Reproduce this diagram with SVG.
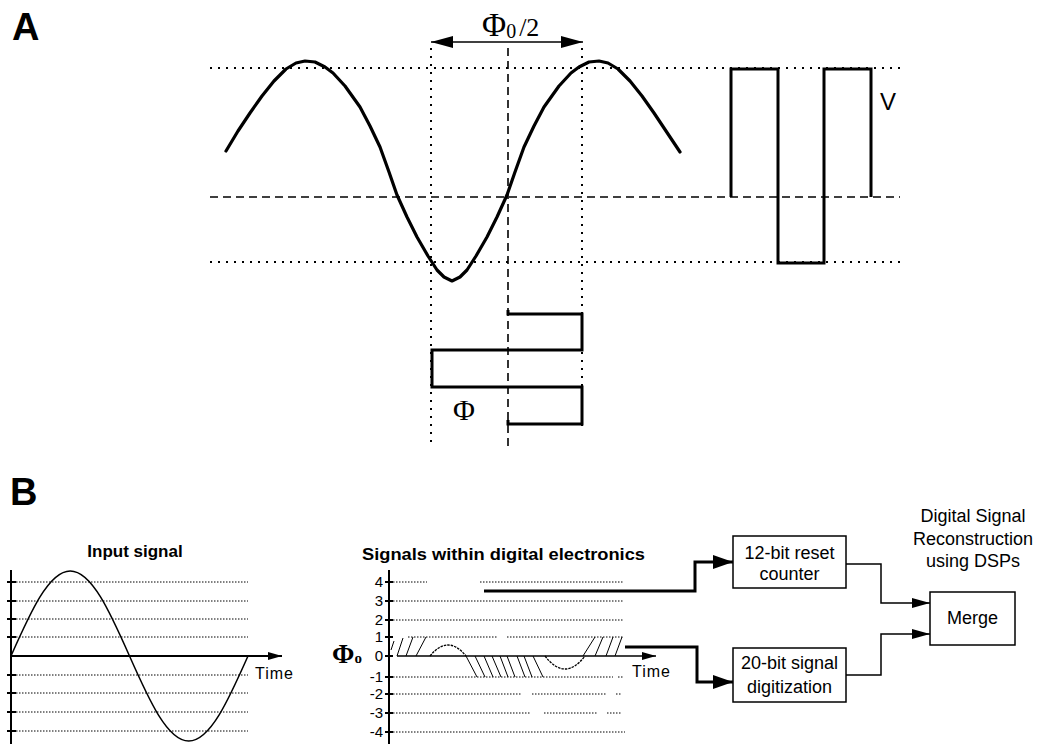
<svg xmlns="http://www.w3.org/2000/svg" width="1043" height="744" viewBox="0 0 1043 744">
<style>
  .bg{fill:#fff}
  .ln{stroke:#000;fill:none}
  .dotA{stroke:#000;stroke-width:2;stroke-dasharray:2 6;fill:none}
  .dashA{stroke:#000;stroke-width:1.6;stroke-dasharray:8 5;fill:none}
  .wave{stroke:#000;stroke-width:3.2;fill:none;stroke-linejoin:round;stroke-linecap:round}
  .sq{stroke:#000;stroke-width:3;fill:none;stroke-linejoin:miter}
  .fine{stroke:#000;stroke-width:1;stroke-dasharray:1.5 1.5;fill:none}
  .bump{stroke:#000;stroke-width:1.3;stroke-dasharray:2.5 1;fill:none}
  .hatch{stroke:#000;stroke-width:1;fill:none}
  .axis{stroke:#000;stroke-width:2;fill:none}
  .thick{stroke:#000;stroke-width:3;fill:none}
  .thin{stroke:#000;stroke-width:1.5;fill:none}
  .box{stroke:#000;stroke-width:1.5;fill:#fff}
  .lab{font-family:"Liberation Sans",Arial,sans-serif;font-weight:bold;font-size:38px}
  .serif{font-family:"Liberation Serif","Times New Roman",serif}
  .sans{font-family:"Liberation Sans",Arial,sans-serif}
  .t18{font-family:"Liberation Sans",Arial,sans-serif;font-size:18px;text-anchor:middle}
  .tick{font-family:"Liberation Sans",Arial,sans-serif;font-size:15px;text-anchor:end}
  .ttl{font-family:"Liberation Sans",Arial,sans-serif;font-size:17px;font-weight:bold}
</style>
<defs>
  <marker id="big" markerUnits="userSpaceOnUse" markerWidth="22" markerHeight="12" refX="22" refY="6" orient="auto-start-reverse"><path d="M0,0 L22,6 L0,12 Z" fill="#000"/></marker>
  <marker id="mthick" markerUnits="userSpaceOnUse" markerWidth="20" markerHeight="14" refX="20" refY="7" orient="auto"><path d="M0,0 L20,7 L0,14 Z" fill="#000"/></marker>
  <marker id="mthin" markerUnits="userSpaceOnUse" markerWidth="18" markerHeight="10" refX="18" refY="5" orient="auto"><path d="M0,0 L18,5 L0,10 Z" fill="#000"/></marker>
  <marker id="max" markerUnits="userSpaceOnUse" markerWidth="14" markerHeight="8" refX="14" refY="4" orient="auto"><path d="M0,0 L14,4 L0,8 Z" fill="#000"/></marker>
</defs>
<rect class="bg" x="0" y="0" width="1043" height="744"/>

<!-- Panel A -->
<g id="panelA">
  <text class="lab" x="12" y="40">A</text>
  <g id="gridA">
    <line class="dotA" x1="210" y1="68" x2="900" y2="68"/>
    <line class="dashA" x1="210" y1="197" x2="900" y2="197"/>
    <line class="dotA" x1="210" y1="262" x2="900" y2="262"/>
    <line class="dotA" x1="431" y1="48" x2="431" y2="446"/>
    <line class="dashA" x1="508" y1="48" x2="508" y2="450"/>
    <line class="dotA" x1="582" y1="48" x2="582" y2="426"/>
  </g>
  <g id="sineA">
    <polyline class="wave" points="226,151 238,131 250,113 262,96 274,81 286,69 296,63 305,61 315,62 325,67 333,73 345,86 360,107 370,126 380,147 389,172 397,195 407,217 417,237 428,256 437,270 444,277 452,281 460,277 467,270 476,256 487,237 497,217 507,195 515,172 524,147 534,126 544,107 559,86 571,73 579,67 589,62 599,61 608,63 618,69 630,81 642,96 654,113 666,131 680,152"/>
  </g>
  <g id="squareV">
    <polyline class="sq" points="731,197 731,69 778,69 778,263 824,263 824,69 871,69 871,197"/>
    <text class="sans" x="880" y="110" font-size="24">V</text>
  </g>
  <g id="squarePhi">
    <polyline class="sq" points="508,310 508,314 582,314 582,350 432,350 432,387 582,387 582,424 508,424 508,420"/>
    <text class="serif" x="453" y="420" font-size="30">Φ</text>
  </g>
  <g id="halfPeriod">
    <line class="thin" x1="431" y1="42" x2="583" y2="42" marker-start="url(#big)" marker-end="url(#big)"/>
    <text class="serif" x="482" y="36" font-size="26"><tspan font-size="33">Φ</tspan><tspan font-size="20" dy="2">0</tspan><tspan dx="3" dy="-2">/2</tspan></text>
  </g>
</g>

<!-- Panel B -->
<g id="panelB">
  <text class="lab" x="10" y="505">B</text>

  <g id="inputSignal">
    <text class="ttl" x="135" y="557" text-anchor="middle">Input signal</text>
    <line class="axis" x1="11" y1="570" x2="11" y2="744"/>
    <line class="axis" x1="11" y1="656" x2="282" y2="656" marker-end="url(#max)"/>
    <g class="axis" stroke-width="1.5">
      <line x1="7" y1="582" x2="16" y2="582"/><line x1="7" y1="601" x2="16" y2="601"/>
      <line x1="7" y1="619" x2="16" y2="619"/><line x1="7" y1="637" x2="16" y2="637"/>
      <line x1="7" y1="675" x2="16" y2="675"/><line x1="7" y1="693" x2="16" y2="693"/>
      <line x1="7" y1="712" x2="16" y2="712"/><line x1="7" y1="731" x2="16" y2="731"/>
    </g>
    <g class="fine">
      <line x1="16" y1="582" x2="248" y2="582"/><line x1="16" y1="601" x2="248" y2="601"/>
      <line x1="16" y1="619" x2="248" y2="619"/><line x1="16" y1="637" x2="248" y2="637"/>
      <line x1="16" y1="675" x2="248" y2="675"/><line x1="16" y1="693" x2="248" y2="693"/>
      <line x1="16" y1="712" x2="248" y2="712"/><line x1="16" y1="731" x2="248" y2="731"/>
    </g>
    <path class="ln" stroke-width="1.5" d="M11,656 C30.32,612.45 48.81,571 70.25,571 C91.69,571 110.18,612.45 129.5,656 C148.82,699.55 167.31,741 188.75,741 C210.19,741 228.68,699.55 248,656"/>
    <text class="sans" x="255" y="679" font-size="16" letter-spacing="1">Time</text>
  </g>

  <g id="digitalSignals">
    <text class="ttl" x="362" y="560" textLength="283" lengthAdjust="spacingAndGlyphs">Signals within digital electronics</text>
    <line class="axis" x1="389" y1="570" x2="389" y2="744"/>
    <g class="axis" stroke-width="1.5">
      <line x1="385" y1="582" x2="393" y2="582"/><line x1="385" y1="601" x2="393" y2="601"/>
      <line x1="385" y1="620" x2="393" y2="620"/><line x1="385" y1="637" x2="393" y2="637"/>
      <line x1="385" y1="656" x2="393" y2="656"/><line x1="385" y1="677" x2="393" y2="677"/>
      <line x1="385" y1="694" x2="393" y2="694"/><line x1="385" y1="713" x2="393" y2="713"/>
      <line x1="385" y1="732" x2="393" y2="732"/>
    </g>
    <g>
      <text class="tick" x="383" y="587">4</text>
      <text class="tick" x="383" y="606">3</text>
      <text class="tick" x="383" y="625">2</text>
      <text class="tick" x="383" y="642">1</text>
      <text class="tick" x="383" y="661">0</text>
      <text class="tick" x="383" y="682">-1</text>
      <text class="tick" x="383" y="699">-2</text>
      <text class="tick" x="383" y="718">-3</text>
      <text class="tick" x="383" y="737">-4</text>
    </g>
    <text class="serif" x="332" y="663" font-size="27" font-weight="bold">Φ<tspan font-size="15">o</tspan></text>
    <g class="fine">
      <line x1="393" y1="582" x2="427" y2="582"/><line x1="480" y1="582" x2="623" y2="582"/>
      <line x1="393" y1="601" x2="623" y2="601"/>
      <line x1="393" y1="620" x2="623" y2="620"/>
      <line x1="408" y1="637" x2="497" y2="637"/><line x1="507" y1="637" x2="623" y2="637"/>
      <line x1="393" y1="677" x2="613" y2="677"/><line x1="618" y1="677" x2="623" y2="677"/>
      <line x1="393" y1="694" x2="522" y2="694"/><line x1="532" y1="694" x2="606" y2="694"/><line x1="616" y1="694" x2="622" y2="694"/>
      <line x1="393" y1="713" x2="531" y2="713"/><line x1="544" y1="713" x2="597" y2="713"/><line x1="607" y1="713" x2="622" y2="713"/>
      <line x1="393" y1="732" x2="625" y2="732"/>
    </g>
    <path class="bump" d="M430,656 Q448,634 466,656"/>
    <path class="bump" d="M545,656 Q565,682 585,656"/>
    <g class="hatch">
      <line x1="391" y1="650" x2="394" y2="641"/>
      <line x1="397" y1="656" x2="403" y2="638"/>
      <line x1="406" y1="656" x2="413" y2="637"/>
      <line x1="416" y1="656" x2="426" y2="637"/>
      <line x1="466" y1="656" x2="477" y2="677"/>
      <line x1="475" y1="656" x2="485" y2="677"/>
      <line x1="484" y1="656" x2="493" y2="677"/>
      <line x1="492" y1="656" x2="501" y2="677"/>
      <line x1="500" y1="656" x2="508" y2="677"/>
      <line x1="507" y1="656" x2="515" y2="677"/>
      <line x1="517" y1="656" x2="525" y2="677"/>
      <line x1="524" y1="656" x2="532" y2="677"/>
      <line x1="533" y1="656" x2="543" y2="677"/>
      <line x1="583" y1="656" x2="595" y2="637"/>
      <line x1="595" y1="656" x2="603" y2="637"/>
      <line x1="606" y1="656" x2="613" y2="637"/>
      <line x1="615" y1="656" x2="622" y2="637"/>
    </g>
    <line class="ln" stroke-width="1.5" x1="397" y1="656" x2="656" y2="656" marker-end="url(#max)"/>
    <text class="sans" x="632" y="677" font-size="16" letter-spacing="1">Time</text>
  </g>

  <g id="connectors">
    <polyline class="thick" points="484,591 695,591 695,562 733,562" marker-end="url(#mthick)"/>
    <polyline class="thick" points="625,647 697,647 697,682 733,682" marker-end="url(#mthick)"/>
    <polyline class="thin" points="846,564 881,564 881,603 930,603" marker-end="url(#mthin)"/>
    <polyline class="thin" points="846,675 881,675 881,634 930,634" marker-end="url(#mthin)"/>
  </g>

  <g id="counterBox">
    <rect class="box" x="733" y="536" width="113" height="52"/>
    <text class="t18" x="789.5" y="559">12-bit reset</text>
    <text class="t18" x="789.5" y="580">counter</text>
  </g>
  <g id="digitizationBox">
    <rect class="box" x="733" y="648" width="113" height="54"/>
    <text class="t18" x="789.5" y="669">20-bit signal</text>
    <text class="t18" x="789.5" y="693">digitization</text>
  </g>
  <g id="mergeBox">
    <rect class="box" x="930" y="592" width="85" height="53"/>
    <text class="t18" x="972.5" y="624">Merge</text>
  </g>
  <g id="dspLabel">
    <text class="t18" x="973" y="522">Digital Signal</text>
    <text class="t18" x="973" y="545">Reconstruction</text>
    <text class="t18" x="973" y="567">using DSPs</text>
  </g>
</g>
</svg>
